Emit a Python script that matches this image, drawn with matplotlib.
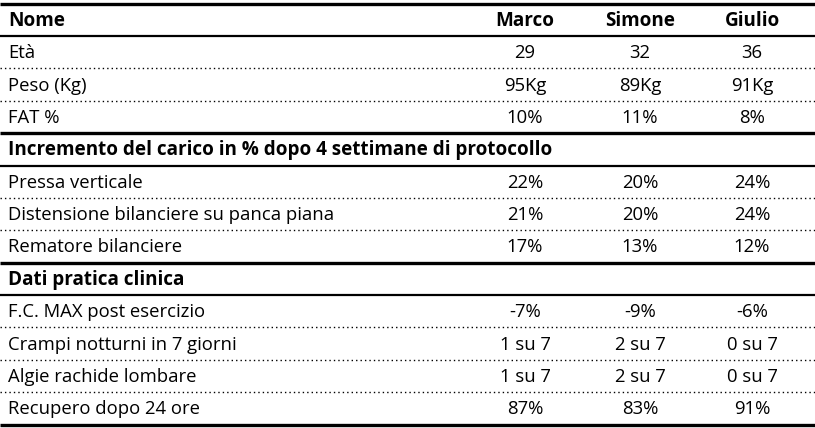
import matplotlib
matplotlib.use("Agg")
import matplotlib.pyplot as plt

plt.rcParams['font.family'] = ['Open Sans', 'DejaVu Sans']

# table content
header = ["Nome", "Marco", "Simone", "Giulio"]

anagrafica_labels = ["Età", "Peso (Kg)", "FAT %"]
anagrafica_values = [["29", "32", "36"],
                     ["95Kg", "89Kg", "91Kg"],
                     ["10%", "11%", "8%"]]

sezione_carico = "Incremento del carico in % dopo 4 settimane di protocollo"
carico_labels = ["Pressa verticale",
                 "Distensione bilanciere su panca piana",
                 "Rematore bilanciere"]
carico_values = [["22%", "20%", "24%"],
                 ["21%", "20%", "24%"],
                 ["17%", "13%", "12%"]]

sezione_clinica = "Dati pratica clinica"
clinica_labels = ["F.C. MAX post esercizio",
                  "Crampi notturni in 7 giorni",
                  "Algie rachide lombare",
                  "Recupero dopo 24 ore"]
clinica_values = [["-7%", "-9%", "-6%"],
                  ["1 su 7", "2 su 7", "0 su 7"],
                  ["1 su 7", "2 su 7", "0 su 7"],
                  ["87%", "83%", "91%"]]

W, H = 815, 428
fig = plt.figure(figsize=(W / 100, H / 100), dpi=100)
ax = fig.add_axes([0, 0, 1, 1])
ax.set_xlim(0, W)
ax.set_ylim(H, 0)
ax.axis("off")

top = 3.5
row_h = 32.4
x_label = 8
x_cols = [525, 640, 752]
fs = 13.3
fs_bold = 13.6

# build rows: (kind, label, values)
rows = [("header", header[0], header[1:])]
for lab, vals in zip(anagrafica_labels, anagrafica_values):
    rows.append(("data", lab, vals))
rows.append(("section", sezione_carico, None))
for lab, vals in zip(carico_labels, carico_values):
    rows.append(("data", lab, vals))
rows.append(("section", sezione_clinica, None))
for lab, vals in zip(clinica_labels, clinica_values):
    rows.append(("data", lab, vals))

ax.plot([0, W], [top, top], color="black", lw=2.4, solid_capstyle="butt")

for i, (kind, lab, vals) in enumerate(rows):
    y0 = top + i * row_h
    yc = y0 + row_h / 2 + 1
    bold = kind in ("header", "section")
    size = fs_bold if bold else fs
    weight = "bold" if bold else "normal"
    ax.text(x_label, yc, lab, ha="left", va="center", fontsize=size,
            fontweight=weight, color="black")
    if vals is not None:
        for x, v in zip(x_cols, vals):
            ax.text(x, yc, v, ha="center", va="center", fontsize=size,
                    fontweight=weight, color="black")
    # line below this row
    yb = y0 + row_h
    nxt = rows[i + 1][0] if i + 1 < len(rows) else None
    if i == len(rows) - 1 or nxt == "section":
        ax.plot([0, W], [yb, yb], color="black", lw=2.4, solid_capstyle="butt")
    elif bold:
        ax.plot([0, W], [yb, yb], color="black", lw=1.6, solid_capstyle="butt")
    else:
        ax.plot([0, W], [yb, yb], color="black", lw=1.0,
                linestyle=(0, (1, 2.2)))

fig.savefig("out.png", dpi=100)
